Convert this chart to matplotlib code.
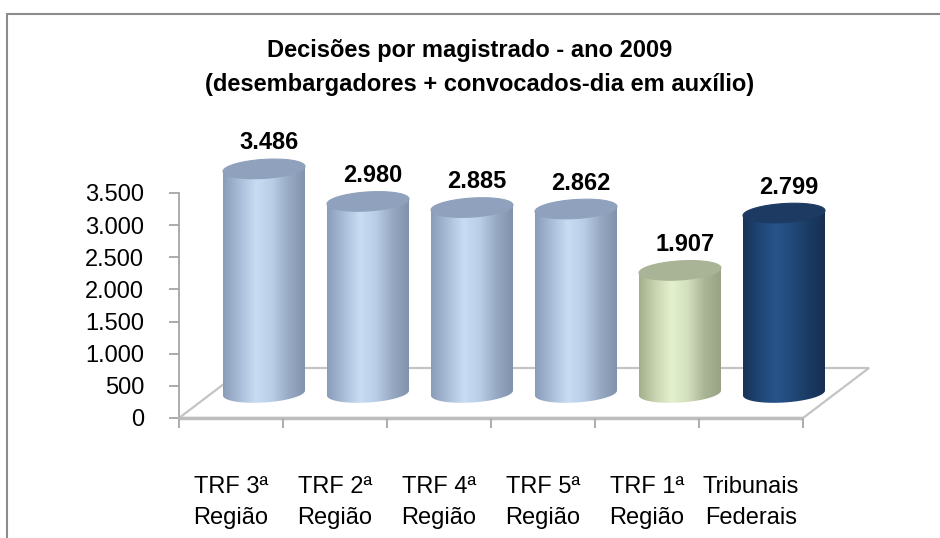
import numpy as np
import matplotlib
matplotlib.use("Agg")
import matplotlib.pyplot as plt
from matplotlib import font_manager
from matplotlib.colors import LinearSegmentedColormap
from matplotlib.path import Path
from matplotlib.patches import PathPatch, Polygon, Rectangle
from matplotlib.ticker import FuncFormatter

categories = ["TRF 3ª\nRegião", "TRF 2ª\nRegião", "TRF 4ª\nRegião",
              "TRF 5ª\nRegião", "TRF 1ª\nRegião", "Tribunais\nFederais"]
values = [3486, 2980, 2885, 2862, 1907, 2799]
bar_kind = ["light", "light", "light", "light", "green", "dark"]
y_ticks = [0, 500, 1000, 1500, 2000, 2500, 3000, 3500]
title_lines = ["Decisões por magistrado - ano 2009",
               "(desembargadores + convocados-dia em auxílio)"]

# shading for each kind of cylinder: side gradient stops + top colour
palettes = {
    "light": (["#8a9db8", "#a9bdd8", "#c8dcf3", "#b9cde7", "#97a9c3", "#8192ac"], "#8fa1bc"),
    "green": (["#a3ae8c", "#c9d5b0", "#e4f1cf", "#d3dfbd", "#aab596", "#98a284"], "#a9b496"),
    "dark": (["#183358", "#204675", "#27548c", "#22497a", "#1b3b64", "#163052"], "#1d3b62"),
}

avail = {f.name for f in font_manager.fontManager.ttflist}
narrow = "Liberation Sans Narrow" if "Liberation Sans Narrow" in avail else "Liberation Sans"
plt.rcParams["font.family"] = ["Liberation Sans", "DejaVu Sans"]

W, H = 940, 538
fig = plt.figure(figsize=(W / 100, H / 100), dpi=100)
ax = fig.add_axes([0, 0, 1, 1])

# pixel layout of the plot: category width 104 px, 500 units = 32.14 px
px_x = 1 / 104.0
px_y = 3500 / 225.0
ax.patch.set_visible(False)

# depth of the floor
dx, dy = 66 * px_x, 50 * px_y
n = len(categories)

floor = Polygon([(-0.5, 0), (n - 0.5, 0), (n - 0.5 + dx, dy), (-0.5 + dx, dy)],
                closed=True, facecolor="white", edgecolor="#c4c4c4", lw=1.6, zorder=1)
ax.add_patch(floor)
ax.plot([-0.5, n - 0.5], [0, 0], color="#bdbdbd", lw=2.5, zorder=1.5,
        solid_capstyle="butt")

# axis styling
for s in ["top", "right"]:
    ax.spines[s].set_visible(False)
ax.spines["left"].set_position(("data", -0.5))
ax.spines["left"].set_bounds(y_ticks[0], y_ticks[-1])
ax.spines["left"].set_color("#a6a6a6")
ax.spines["left"].set_linewidth(1.3)
ax.spines["bottom"].set_position(("data", 0))
ax.spines["bottom"].set_bounds(-0.5, n - 0.5)
ax.spines["bottom"].set_color("#bdbdbd")
ax.spines["bottom"].set_linewidth(1.3)

ax.set_yticks(y_ticks)
ax.yaxis.set_major_formatter(FuncFormatter(lambda v, p: f"{int(v):,}".replace(",", ".")))
ax.tick_params(axis="y", length=7, width=1.3, color="#a6a6a6", pad=18,
               labelsize=17, direction="out")
ax.set_xticks(range(n))
ax.set_xticklabels(categories, linespacing=1.5)
ax.set_xticks(np.arange(n + 1) - 0.5, minor=True)
ax.tick_params(axis="x", which="major", length=0, pad=42, labelsize=17)
ax.tick_params(axis="x", which="minor", length=7, width=1.3, color="#a6a6a6")

# cylinders
w = 41 * px_x
eh = 9.5 * px_y
tilt = 2.5 * px_y
t = np.linspace(0, 2 * np.pi, 120)
for i, (v, kind) in enumerate(zip(values, bar_kind)):
    stops, top_col = palettes[kind]
    cmap = LinearSegmentedColormap.from_list(kind, stops)
    xc = i + dx / 2
    yb = dy / 2
    yt = yb + v

    a = np.linspace(np.pi, 2 * np.pi, 60)
    bx = xc + w * np.cos(a)
    by = yb + eh * np.sin(a) + tilt * np.cos(a)
    verts = [(xc - w, yt - tilt)] + list(zip(bx, by)) + [(xc + w, yt + tilt), (xc - w, yt - tilt)]
    body = PathPatch(Path(verts), transform=ax.transData, facecolor="none", edgecolor="none")
    grad = np.linspace(0, 1, 200)[np.newaxis, :]
    im = ax.imshow(grad, extent=(xc - w, xc + w, yb - eh - tilt, yt + tilt), cmap=cmap,
                   aspect="auto", interpolation="bicubic", zorder=3 + i * 0.01)
    im.set_clip_path(body)

    ex = xc + w * np.cos(t)
    ey = yt + eh * np.sin(t) + tilt * np.cos(t)
    ax.add_patch(Polygon(np.column_stack([ex, ey]), closed=True, facecolor=top_col,
                         edgecolor=top_col, lw=0.8, zorder=3.5 + i * 0.01))

    ax.text(xc + 0.05, yt + eh + 10 * px_y, f"{v:,}".replace(",", "."),
            ha="center", va="baseline", fontsize=17, fontweight="bold", zorder=5)

ax.set_xlim(-0.5 - 179 * px_x, -0.5 + (W - 179) * px_x)
ax.set_ylim(-120 * px_y, (H - 120) * px_y)

# title
fig.text(0.5, 1 - 57 / H, title_lines[0], ha="center", va="baseline",
         fontsize=17, fontweight="bold", family=[narrow, "DejaVu Sans"])
fig.text(0.51, 1 - 91 / H, title_lines[1], ha="center", va="baseline",
         fontsize=17, fontweight="bold", family=[narrow, "DejaVu Sans"])

# chart frame (cut by the picture edge on the right and bottom)
fig.add_artist(Rectangle((7 / W, -0.1), 1.2, 1.1 - 14 / H, transform=fig.transFigure,
                         facecolor="none", edgecolor="#8c8c8c", lw=1.5))

fig.savefig("out.png", dpi=100)
